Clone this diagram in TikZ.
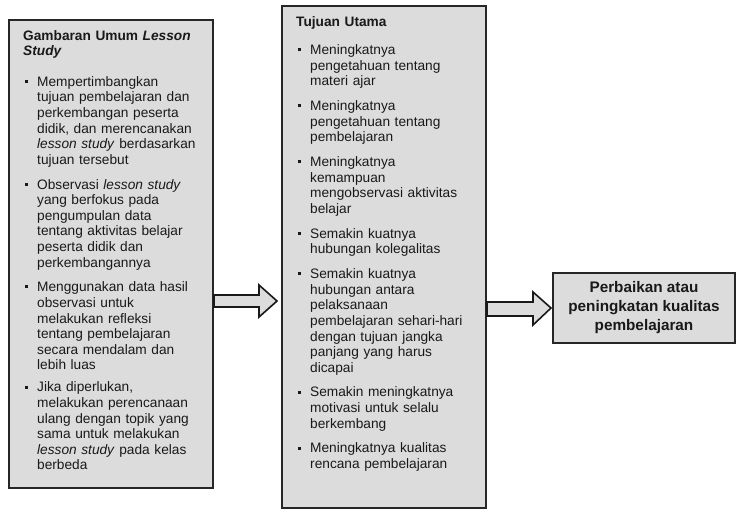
\documentclass[tikz,border=0pt]{standalone}
\usepackage{fontspec}
\setmainfont{Liberation Sans}
\usetikzlibrary{positioning,calc}
\definecolor{abu}{HTML}{DCDCDC}
% butir daftar dengan kotak kecil
\newcommand{\butir}[1]{\par\noindent\makebox[14pt][l]{\hspace{1.5pt}\raisebox{3.4pt}{\rule{3pt}{3pt}}}%
  \parbox[t]{180pt}{\raggedright #1}}
\begin{document}
\begin{tikzpicture}[x=1pt,y=-1pt,
  kotak/.style={draw=black!85, line width=2pt, fill=abu, inner sep=0pt},
  isi/.style={inner sep=0pt, text width=196pt, align=left, text=black!90,
    font=\fontsize{13.7}{15.6}\selectfont, execute at begin node={\setlength{\parskip}{11pt}}},
  blok/.style={draw=black!90, line width=1.6pt, fill=abu, line join=miter}]
\useasboundingbox (0,0) rectangle (743,515);

% kotak
\node[kotak, anchor=north west, minimum width=204pt, minimum height=468pt] (umum) at (8,19) {};
\node[kotak, anchor=north west, minimum width=204pt, minimum height=502pt] (tujuan) at (281,5) {};
\node[kotak, minimum width=182pt, minimum height=70pt, align=center, text=black!90,
  font=\bfseries\fontsize{15.3}{19}\selectfont] (hasil) at (644,308)
  {Perbaikan atau\\ peningkatan kualitas\\ pembelajaran};

% isi kotak
\node[isi, below right=11pt and 15pt of umum.north west] (umumIsi) {%
\textbf{Gambaran Umum \textit{Lesson}\\ \textit{Study}}\par\vspace{4pt}
\butir{Mempertimbangkan\\ tujuan pembelajaran dan\\ perkembangan peserta\\ didik, dan merencanakan\\ \textit{lesson study} berdasarkan\\ tujuan tersebut}
\butir{Observasi \textit{lesson study}\\ yang berfokus pada\\ pengumpulan data\\ tentang aktivitas belajar\\ peserta didik dan\\ perkembangannya}
\butir{Menggunakan data hasil\\ observasi untuk\\ melakukan refleksi\\ tentang pembelajaran\\ secara mendalam dan\\ lebih luas}
\butir{Jika diperlukan,\\ melakukan perencanaan\\ ulang dengan topik yang\\ sama untuk melakukan\\ \textit{lesson study} pada kelas\\ berbeda}\par};
\node[isi, below right=11pt and 15pt of tujuan.north west] (tujuanIsi) {%
\textbf{Tujuan Utama}\par\vspace{2pt}
\butir{Meningkatnya\\ pengetahuan tentang\\ materi ajar}
\butir{Meningkatnya\\ pengetahuan tentang\\ pembelajaran}
\butir{Meningkatnya\\ kemampuan\\ mengobservasi aktivitas\\ belajar}
\butir{Semakin kuatnya\\ hubungan kolegalitas}
\butir{Semakin kuatnya\\ hubungan antara\\ pelaksanaan\\ pembelajaran sehari-hari\\ dengan tujuan jangka\\ panjang yang harus\\ dicapai}
\butir{Semakin meningkatnya\\ motivasi untuk selalu\\ berkembang}
\butir{Meningkatnya kualitas\\ rencana pembelajaran}\par};

% panah blok
\draw[blok] (umum.east |- 0,295) -- (259,295) -- (259,285)
  -- ($(tujuan.west |- 0,301)+(-4,0)$) -- (259,317) -- (259,307)
  -- (umum.east |- 0,307) -- cycle;
\draw[blok] (tujuan.east |- 0,302) -- (533,302) -- (533,292)
  -- ($(hasil.west)+(-1,0)$) -- (533,325) -- (533,316)
  -- (tujuan.east |- 0,316) -- cycle;
\end{tikzpicture}
\end{document}
